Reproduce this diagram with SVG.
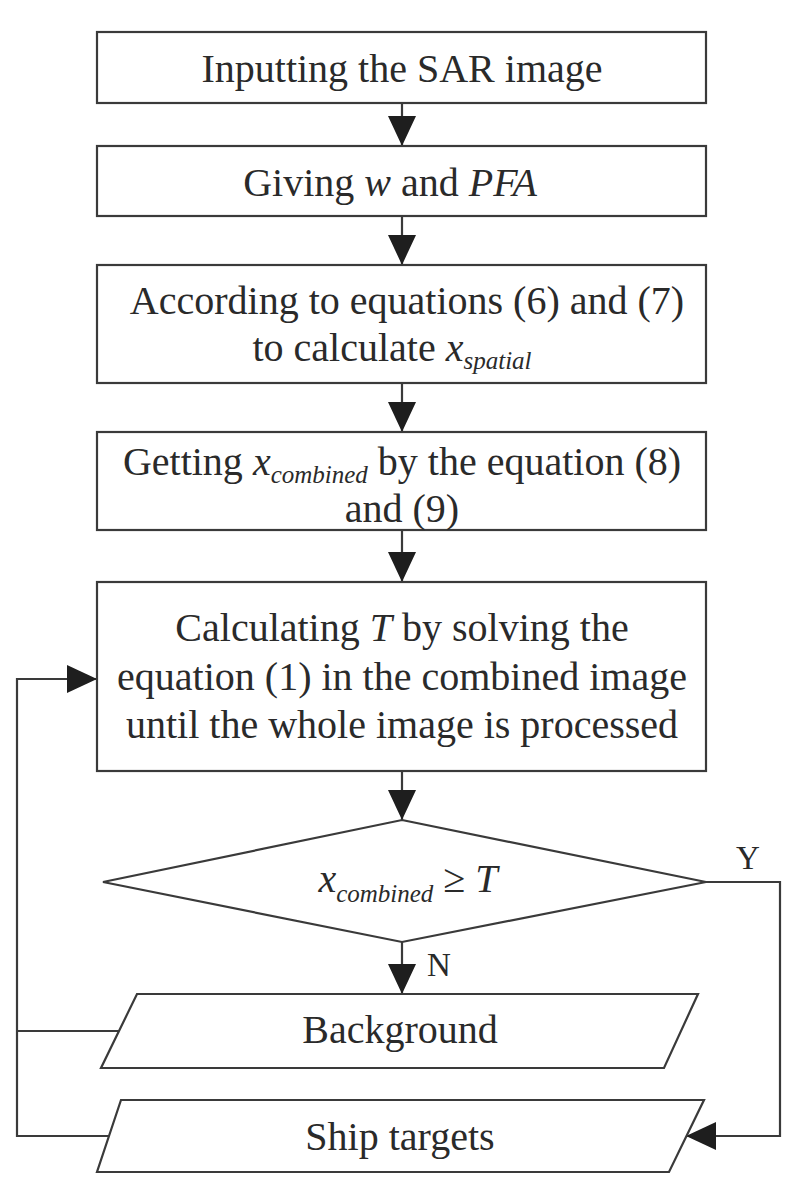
<svg xmlns="http://www.w3.org/2000/svg" width="798" height="1192" viewBox="0 0 798 1192">
<style>
.box{fill:#fff;stroke:#3a3a3a;stroke-width:2.2}
.ln{fill:none;stroke:#3a3a3a;stroke-width:2.2}
.t{font-family:"Liberation Serif","Times New Roman",serif;font-size:40px;fill:#2a2a2a;text-anchor:middle}
.i{font-style:italic}
.s{font-style:italic;font-size:25px}
.lb{font-family:"Liberation Serif","Times New Roman",serif;font-size:33px;fill:#2a2a2a}
</style>
<defs>
<marker id="ah" viewBox="0 0 30 28" refX="30" refY="14" markerWidth="30" markerHeight="28" markerUnits="userSpaceOnUse" orient="auto">
<path d="M0,0 L30,14 L0,28 Z" fill="#1e1e1e"/>
</marker>
</defs>
<rect width="798" height="1192" fill="#fff"/>
<g id="connectors">
<line class="ln" x1="402" y1="103" x2="402" y2="146" marker-end="url(#ah)"/>
<line class="ln" x1="402" y1="216" x2="402" y2="265" marker-end="url(#ah)"/>
<line class="ln" x1="402" y1="383" x2="402" y2="432" marker-end="url(#ah)"/>
<line class="ln" x1="402" y1="530" x2="402" y2="582" marker-end="url(#ah)"/>
<line class="ln" x1="402" y1="771" x2="402" y2="820" marker-end="url(#ah)"/>
<line class="ln" x1="402" y1="942" x2="402" y2="994" marker-end="url(#ah)"/>
<polyline class="ln" points="706,882 780,882 780,1136 686,1136" marker-end="url(#ah)"/>
<polyline class="ln" points="109,1136 17,1136 17,679 97,679" marker-end="url(#ah)"/>
<line class="ln" x1="119" y1="1031" x2="17" y2="1031"/>
<text class="lb" x="736" y="869">Y</text>
<text class="lb" x="427" y="976">N</text>
</g>
<g id="n1">
<rect class="box" x="97" y="32" width="609" height="71"/>
<text class="t" x="402" y="82">Inputting the SAR image</text>
</g>
<g id="n2">
<rect class="box" x="97" y="146" width="609" height="70"/>
<text class="t" x="390" y="196">Giving <tspan class="i">w</tspan>  and <tspan class="i">PFA</tspan></text>
</g>
<g id="n3">
<rect class="box" x="97" y="265" width="609" height="118"/>
<text class="t" x="407" y="314">According to equations (6) and (7)</text>
<text class="t" x="392" y="361">to calculate <tspan class="i">x</tspan><tspan class="s" dy="8">spatial</tspan></text>
</g>
<g id="n4">
<rect class="box" x="97" y="432" width="609" height="98"/>
<text class="t" x="402" y="475">Getting <tspan class="i">x</tspan><tspan class="s" dy="8">combined</tspan><tspan dy="-8"> by the equation (8)</tspan></text>
<text class="t" x="402" y="522">and (9)</text>
</g>
<g id="n5">
<rect class="box" x="97" y="582" width="609" height="189"/>
<text class="t" x="402" y="641">Calculating <tspan class="i">T</tspan>  by solving the</text>
<text class="t" x="402" y="690">equation (1) in the combined image</text>
<text class="t" x="402" y="738">until the whole image is processed</text>
</g>
<g id="n6">
<polygon class="box" points="402,820 706,882 402,942 103,882"/>
<text class="t" x="408" y="892"><tspan class="i">x</tspan><tspan class="s" dy="10">combined</tspan><tspan dy="-10"> ≥ </tspan><tspan class="i">T</tspan></text>
</g>
<g id="n7">
<polygon class="box" points="137,994 698,994 664,1068 101,1068"/>
<text class="t" x="400" y="1043">Background</text>
</g>
<g id="n8">
<polygon class="box" points="121,1100 704,1100 669,1172 97,1172"/>
<text class="t" x="400" y="1150">Ship targets</text>
</g>
</svg>
